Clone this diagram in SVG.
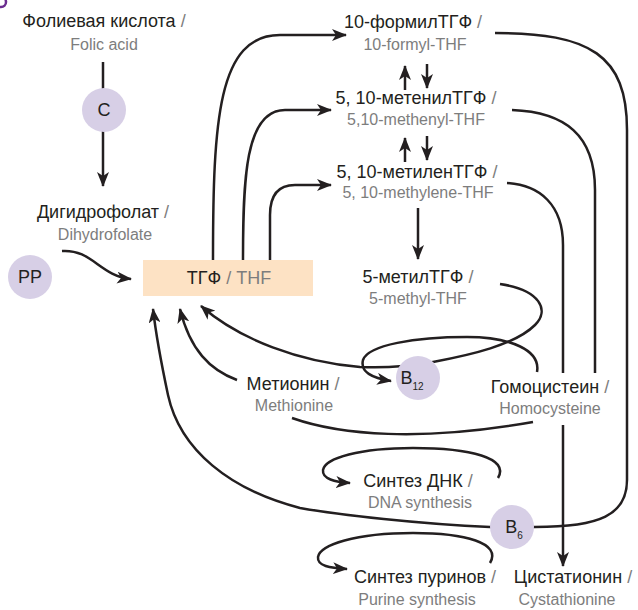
<svg xmlns="http://www.w3.org/2000/svg" width="638" height="610" viewBox="0 0 638 610">
<defs>
<style>
.ru{font-family:"Liberation Sans","DejaVu Sans",sans-serif;font-size:18px;fill:#231f20;text-anchor:middle}
.en{font-family:"Liberation Sans","DejaVu Sans",sans-serif;font-size:16px;fill:#7d7d7d;text-anchor:middle}
.sl{fill:#7d7d7d}
.ln{fill:none;stroke:#231f20;stroke-width:2.5}
.ar{marker-end:url(#ah)}
.cf{fill:#d7cfe6}
.cl{font-family:"Liberation Sans","DejaVu Sans",sans-serif;font-size:18px;fill:#231f20;text-anchor:middle}
.sub{font-size:10px}
</style>
<marker id="ah" markerUnits="userSpaceOnUse" markerWidth="16" markerHeight="12" refX="14" refY="6" orient="auto">
<path d="M0,0 L15,6 L0,12 L4,6 z" fill="#231f20"/>
</marker>
</defs>
<rect width="638" height="610" fill="#ffffff"/>
<circle cx="1" cy="2" r="5" fill="none" stroke="#6b2d8f" stroke-width="2.5"/>

<g id="connectors">
<path class="ln" d="M103,62 L103,186" marker-end="url(#ah)"/>
<path class="ln ar" d="M62,251 C92,249 100,276 131,279"/>
<path class="ln ar" d="M213,260 C213,120 218,35 280,35 L346,35"/>
<path class="ln ar" d="M243,260 C243,180 245,110 285,110 L331,110"/>
<path class="ln ar" d="M270,260 L270,215 C270,195 278,185 295,185 L331,185"/>
<path class="ln ar" d="M405,90 L405,66"/>
<path class="ln ar" d="M427,64 L427,88"/>
<path class="ln ar" d="M405,162 L405,138"/>
<path class="ln ar" d="M427,136 L427,160"/>
<path class="ln ar" d="M418,208 L418,259"/>
<path class="ln ar" d="M495,33 C590,33 627,55 627,130 L627,480 C627,515 600,527 535,527 L490,527 C420,524 340,515 300,508 C230,490 180,450 168,395 C161,362 156,335 153,309"/>
<path class="ln" d="M512,110 C565,112 595,135 595,190 L595,373"/>
<path class="ln" d="M507,183 C540,185 563,205 563,245 L563,373"/>
<path class="ln ar" d="M563,425 L563,566"/>
<path class="ln ar" d="M500,284 C540,290 550,310 535,325 C515,345 470,355 433,362 C405,367 380,368 360,367 C300,362 240,340 201,306"/>
<path class="ln ar" d="M537,372 C541,350 510,337 467,337 C415,337 368,345 363,360 C360,372 372,378 391,381"/>
<path class="ln ar" d="M237,380 C210,370 190,350 180,309"/>
<path class="ln" d="M292,418 C340,435 420,442 533,422"/>
<path class="ln ar" d="M498,478 C510,458 470,448 413,448 C360,448 325,458 323,470 C322,479 335,482 350,483"/>
<path class="ln ar" d="M490,563 C502,543 465,533 413,533 C355,533 320,545 318,557 C317,566 330,568 347,569"/>
</g>

<g id="folic">
<text class="ru" x="104" y="27">Фолиевая кислота <tspan class="sl">/</tspan></text>
<text class="en" x="104" y="50">Folic acid</text>
</g>
<g id="c-circle">
<circle class="cf" cx="104" cy="110" r="22"/>
<text class="cl" x="104" y="116">C</text>
</g>
<g id="dihydrofolate">
<text class="ru" x="103" y="218">Дигидрофолат <tspan class="sl">/</tspan></text>
<text class="en" x="105" y="240">Dihydrofolate</text>
</g>
<g id="pp">
<circle class="cf" cx="30" cy="277" r="22"/>
<text class="cl" x="30" y="283">PP</text>
</g>
<g id="thf">
<rect x="143" y="260" width="170" height="36" fill="#fde2c4"/>
<text class="ru" x="229" y="284">ТГФ <tspan class="sl">/ THF</tspan></text>
</g>
<g id="formyl">
<text class="ru" x="413" y="28">10-формилТГФ <tspan class="sl">/</tspan></text>
<text class="en" x="415" y="50">10-formyl-THF</text>
</g>
<g id="methenyl">
<text class="ru" x="416" y="104">5, 10-метенилТГФ <tspan class="sl">/</tspan></text>
<text class="en" x="416" y="125">5,10-methenyl-THF</text>
</g>
<g id="methylene">
<text class="ru" x="417" y="178">5, 10-метиленТГФ <tspan class="sl">/</tspan></text>
<text class="en" x="418" y="198">5, 10-methylene-THF</text>
</g>
<g id="methyl">
<text class="ru" x="418" y="283">5-метилТГФ <tspan class="sl">/</tspan></text>
<text class="en" x="418" y="304">5-methyl-THF</text>
</g>
<g id="b12">
<circle class="cf" cx="418" cy="378" r="22"/>
<text class="cl" x="412" y="384">B<tspan class="sub" dy="6">12</tspan></text>
</g>
<g id="methionine">
<text class="ru" x="293" y="390">Метионин <tspan class="sl">/</tspan></text>
<text class="en" x="294" y="411">Methionine</text>
</g>
<g id="homocysteine">
<text class="ru" x="550" y="393">Гомоцистеин <tspan class="sl">/</tspan></text>
<text class="en" x="550" y="414">Homocysteine</text>
</g>
<g id="dna">
<text class="ru" x="418" y="487">Синтез ДНК <tspan class="sl">/</tspan></text>
<text class="en" x="420" y="508">DNA synthesis</text>
</g>
<g id="b6">
<circle class="cf" cx="512" cy="527" r="22"/>
<text class="cl" x="514" y="533">B<tspan class="sub" dy="6">6</tspan></text>
</g>
<g id="purine">
<text class="ru" x="425" y="583">Синтез пуринов <tspan class="sl">/</tspan></text>
<text class="en" x="417" y="605">Purine synthesis</text>
</g>
<g id="cystathionine">
<text class="ru" x="573" y="583">Цистатионин <tspan class="sl">/</tspan></text>
<text class="en" x="567" y="605">Cystathionine</text>
</g>
</svg>
